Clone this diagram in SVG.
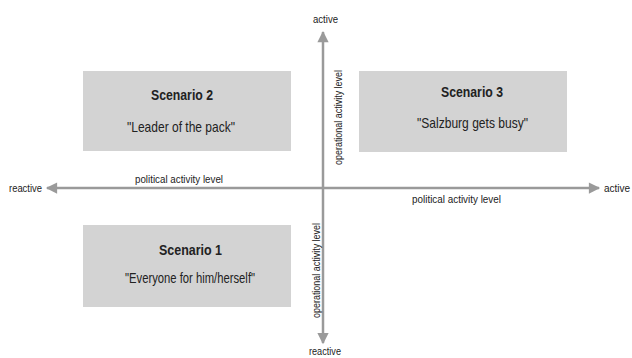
<svg xmlns="http://www.w3.org/2000/svg" width="632" height="358" viewBox="0 0 632 358">
<style>
text{font-family:"Liberation Sans Narrow","Liberation Sans",Arial,sans-serif;fill:#222}
.box{fill:#d3d3d3}
.t{font-size:15px;font-weight:bold;text-anchor:middle}
.s{font-size:15px;text-anchor:middle}
.ax{font-size:11.5px}
.axl{stroke:#9a9a9a;stroke-width:2.5;fill:none}
</style>
<defs>
<marker id="ah" viewBox="0 0 10 10" refX="9" refY="5" markerWidth="6" markerHeight="4.5" orient="auto" markerUnits="strokeWidth"><path d="M0,0L10,5L0,10z" fill="#9a9a9a"/></marker>
</defs>
<rect width="632" height="358" fill="#fff"/>
<g id="connectors">
<line class="axl" x1="323" y1="188" x2="47" y2="188" marker-end="url(#ah)"/>
<line class="axl" x1="323" y1="188" x2="599" y2="188" marker-end="url(#ah)"/>
<line class="axl" x1="323" y1="188" x2="323" y2="32" marker-end="url(#ah)"/>
<line class="axl" x1="323" y1="188" x2="323" y2="343" marker-end="url(#ah)"/>
</g>
<g id="labels">
<text class="ax" x="9" y="192" textLength="33" lengthAdjust="spacingAndGlyphs">reactive</text>
<text x="604" y="192" style="font-size:10px">active</text>
<text class="ax" x="313" y="23" textLength="25" lengthAdjust="spacingAndGlyphs">active</text>
<text class="ax" x="309" y="355" textLength="32" lengthAdjust="spacingAndGlyphs">reactive</text>
<text class="ax" x="135" y="183" textLength="88" lengthAdjust="spacingAndGlyphs">political activity level</text>
<text class="ax" x="412" y="203" textLength="89" lengthAdjust="spacingAndGlyphs">political activity level</text>
<text class="ax" transform="translate(342,165) rotate(-90)" textLength="95" lengthAdjust="spacingAndGlyphs">operational activity level</text>
<text class="ax" transform="translate(320,318) rotate(-90)" textLength="95" lengthAdjust="spacingAndGlyphs">operational activity level</text>
</g>
<g id="scenario2">
<rect class="box" x="83" y="71" width="208" height="80"/>
<text class="t" x="182" y="100" textLength="62" lengthAdjust="spacingAndGlyphs">Scenario 2</text>
<text class="s" x="181" y="132" textLength="108" lengthAdjust="spacingAndGlyphs">"Leader of the pack"</text>
</g>
<g id="scenario3">
<rect class="box" x="359" y="71" width="208" height="81"/>
<text class="t" x="472" y="97" textLength="62" lengthAdjust="spacingAndGlyphs">Scenario 3</text>
<text class="s" x="472.5" y="128" textLength="111" lengthAdjust="spacingAndGlyphs">"Salzburg gets busy"</text>
</g>
<g id="scenario1">
<rect class="box" x="83" y="225" width="208" height="82"/>
<text class="t" x="190.5" y="255" textLength="63" lengthAdjust="spacingAndGlyphs">Scenario 1</text>
<text class="s" x="190" y="283" textLength="130" lengthAdjust="spacingAndGlyphs">"Everyone for him/herself"</text>
</g>
</svg>
